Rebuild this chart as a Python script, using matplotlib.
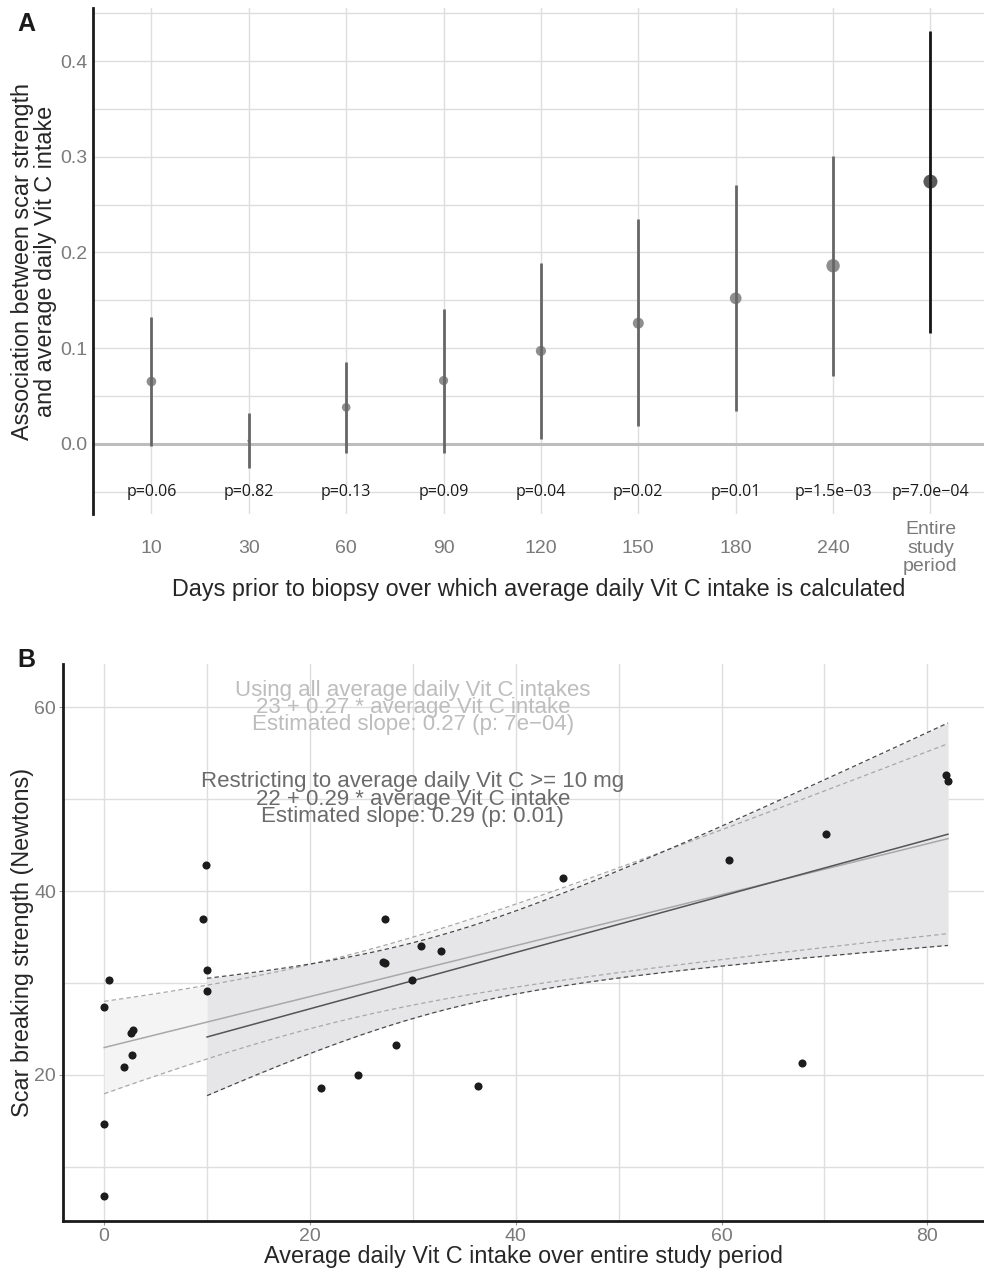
import math
import numpy as np
import matplotlib
matplotlib.use("Agg")
import matplotlib.pyplot as plt

plt.rcParams['font.family'] = ['Liberation Sans', 'DejaVu Sans']

# ---- panel A data: association estimates per averaging window ----
windows = ['10', '30', '60', '90', '120', '150', '180', '240', 'Entire\nstudy\nperiod']
estimate = [0.065, 0.003, 0.038, 0.066, 0.097, 0.126, 0.152, 0.186, 0.274]
ci_low = [-0.002, -0.025, -0.010, -0.010, 0.005, 0.019, 0.034, 0.071, 0.116]
ci_high = [0.132, 0.032, 0.085, 0.141, 0.189, 0.235, 0.270, 0.301, 0.431]
p_values = [0.06, 0.82, 0.13, 0.09, 0.04, 0.02, 0.01, 1.5e-3, 7.0e-4]
p_labels = ['p=0.06', 'p=0.82', 'p=0.13', 'p=0.09', 'p=0.04', 'p=0.02',
            'p=0.01', 'p=1.5e\u221203', 'p=7.0e\u221204']
highlight = [False] * 8 + [True]

# ---- panel B data: intake vs scar strength ----
vitc = [0, 0.5, 0, 0, 2.6, 2.8, 2.7, 1.95, 10.0, 10.0, 9.6, 9.9,
        21.1, 24.7, 28.4, 27.1, 27.3, 29.9, 30.8, 32.7, 27.3, 36.3,
        44.6, 60.7, 70.1, 81.8, 82.0, 67.8]
strength = [27.4, 30.3, 14.7, 6.85, 24.6, 24.9, 22.2, 20.9, 31.4, 29.1, 37.0, 42.8,
            18.6, 20.0, 23.3, 32.3, 32.2, 30.3, 34.0, 33.5, 37.0, 18.8,
            41.4, 43.4, 46.2, 52.6, 52.0, 21.3]
min_intake = 10

GRID = '#dedede'
TICK = '#7a7a7a'
TITLE = '#262626'


def t_quantile(df, prob=0.975):
    """two sided t critical value by integrating the density (no scipy)"""
    c = math.gamma((df + 1) / 2) / (math.sqrt(df * math.pi) * math.gamma(df / 2))
    xs = np.linspace(0, 10, 20001)
    pdf = c * (1 + xs**2 / df) ** (-(df + 1) / 2)
    cdf = 0.5 + np.concatenate([[0], np.cumsum((pdf[1:] + pdf[:-1]) / 2 * np.diff(xs))])
    return float(np.interp(prob, cdf, xs))


def fit_band(x, y):
    """linear fit with a sandwich (HC3) confidence band"""
    x = np.asarray(x, float)
    y = np.asarray(y, float)
    n = len(x)
    X = np.column_stack([np.ones(n), x])
    xtx_inv = np.linalg.inv(X.T @ X)
    beta = xtx_inv @ X.T @ y
    resid = y - X @ beta
    h = np.einsum('ij,jk,ik->i', X, xtx_inv, X)
    w = resid**2 / (1 - h)**2
    cov = xtx_inv @ (X.T * w) @ X @ xtx_inv
    grid = np.linspace(x.min(), x.max(), 200)
    G = np.column_stack([np.ones_like(grid), grid])
    se = np.sqrt(np.einsum('ij,jk,ik->i', G, cov, G))
    tq = t_quantile(n - 2)
    fit = G @ beta
    return grid, fit, fit - tq * se, fit + tq * se


fig = plt.figure(figsize=(9.84, 12.72), dpi=100)

# ================= panel A =================
axA = fig.add_axes([93 / 984, 1 - 514 / 1272, 891 / 984, 506 / 1272])
pos = np.arange(len(windows))
logp = -np.log10(p_values)
# point diameter grows with -log10(p), area style scaling like ggplot
diam_px = 3 + 11 * np.sqrt((logp - logp.min()) / (logp.max() - logp.min()))
sizes = (diam_px / 1.389) ** 2
pt_col = ['#5a5a5a' if h else '#8e8e8e' for h in highlight]
ln_col = ['#161616' if h else '#666666' for h in highlight]

axA.axhline(0, color='#bdbdbd', lw=2.2, zorder=1)
axA.scatter(pos, estimate, s=sizes, c=pt_col, zorder=2, linewidths=0)
axA.vlines(pos, ci_low, ci_high, colors=ln_col, lw=2, zorder=3)
for i, lab in enumerate(p_labels):
    axA.text(pos[i], -0.05, lab, ha='center', va='center', fontsize=11.5,
             family=['Open Sans', 'DejaVu Sans'], color='#1a1a1a')

axA.set_xlim(-0.6, 8.55)
axA.set_ylim(-0.0735, 0.4555)
axA.set_xticks(pos)
axA.set_xticklabels(windows, fontsize=14, color=TICK, linespacing=1.1)
for lab in axA.get_xticklabels():
    lab.set_verticalalignment('center')
axA.tick_params(axis='x', length=0, pad=24.5)
axA.set_yticks([0, 0.1, 0.2, 0.3, 0.4])
axA.set_yticklabels(['0.0', '0.1', '0.2', '0.3', '0.4'])
axA.set_yticks([-0.05, 0.05, 0.15, 0.25, 0.35, 0.45], minor=True)
axA.tick_params(axis='y', which='both', length=0, labelsize=14, labelcolor=TICK, pad=4)
axA.grid(True, which='both', color=GRID, lw=1)
axA.set_axisbelow(True)
for side in ['top', 'right', 'bottom']:
    axA.spines[side].set_visible(False)
axA.spines['left'].set_color('#1a1a1a')
axA.spines['left'].set_linewidth(2)
axA.set_xlabel('Days prior to biopsy over which average daily Vit C intake is calculated',
               fontsize=16.8, color=TITLE, labelpad=2)
axA.set_ylabel('Association between scar strength\nand average daily Vit C intake',
               fontsize=16.8, color=TITLE, linespacing=1.0, labelpad=2)
fig.text(17 / 984, 1 - 24 / 1272, 'A', fontsize=18, fontweight='bold', color='#1a1a1a',
         va='center', ha='left')

# ================= panel B =================
axB = fig.add_axes([63 / 984, 1 - 1221 / 1272, 921 / 984, 557 / 1272])
vx = np.asarray(vitc)
vy = np.asarray(strength)
keep = vx >= min_intake

g_all, f_all, lo_all, hi_all = fit_band(vx, vy)
g_res, f_res, lo_res, hi_res = fit_band(vx[keep], vy[keep])

dash = (0, (3.5, 2.5))
axB.fill_between(g_all, lo_all, hi_all, color='#f4f4f4', lw=0, zorder=1)
axB.fill_between(g_res, lo_res, hi_res, color='#e6e6e8', lw=0, zorder=2)
axB.plot(g_all, lo_all, color='#a8a8a8', lw=0.9, ls=dash, zorder=3)
axB.plot(g_all, hi_all, color='#a8a8a8', lw=0.9, ls=dash, zorder=3)
axB.plot(g_res, lo_res, color='#4a4a4a', lw=0.9, ls=dash, zorder=3)
axB.plot(g_res, hi_res, color='#4a4a4a', lw=0.9, ls=dash, zorder=3)
axB.plot(g_all, f_all, color='#a8a8a8', lw=1.1, zorder=4)
axB.plot(g_res, f_res, color='#555555', lw=1.1, zorder=4)
axB.scatter(vx, vy, s=34, color='#1c1c1c', linewidths=0, zorder=5)

axB.text(30, 60, 'Using all average daily Vit C intakes\n23 + 0.27 * average Vit C intake\n'
         'Estimated slope: 0.27 (p: 7e\u221204)', ha='center', va='center', fontsize=16,
         color='#bdbdbd', linespacing=0.76, zorder=6)
axB.text(30, 50, 'Restricting to average daily Vit C >= 10 mg\n22 + 0.29 * average Vit C intake\n'
         'Estimated slope: 0.29 (p: 0.01)', ha='center', va='center', fontsize=16,
         color='#6b6b6b', linespacing=0.76, zorder=6)

axB.set_xlim(-4, 85.5)
axB.set_ylim(4.1, 64.7)
axB.set_xticks([0, 20, 40, 60, 80])
axB.set_xticks([10, 30, 50, 70], minor=True)
axB.set_yticks([20, 40, 60])
axB.set_yticks([10, 30, 50], minor=True)
axB.tick_params(axis='both', which='major', length=3, color='#999999', labelsize=14,
                labelcolor=TICK, pad=2)
axB.tick_params(axis='both', which='minor', length=0)
axB.grid(True, which='both', color=GRID, lw=1)
axB.set_axisbelow(True)
for side in ['top', 'right']:
    axB.spines[side].set_visible(False)
for side in ['left', 'bottom']:
    axB.spines[side].set_color('#1a1a1a')
    axB.spines[side].set_linewidth(2)
axB.set_xlabel('Average daily Vit C intake over entire study period', fontsize=16.8,
               color=TITLE, labelpad=0)
axB.set_ylabel('Scar breaking strength (Newtons)', fontsize=16.8, color=TITLE, labelpad=0)
fig.text(17 / 984, 1 - 660 / 1272, 'B', fontsize=18, fontweight='bold', color='#1a1a1a',
         va='center', ha='left')

fig.savefig('out.png', dpi=100)
